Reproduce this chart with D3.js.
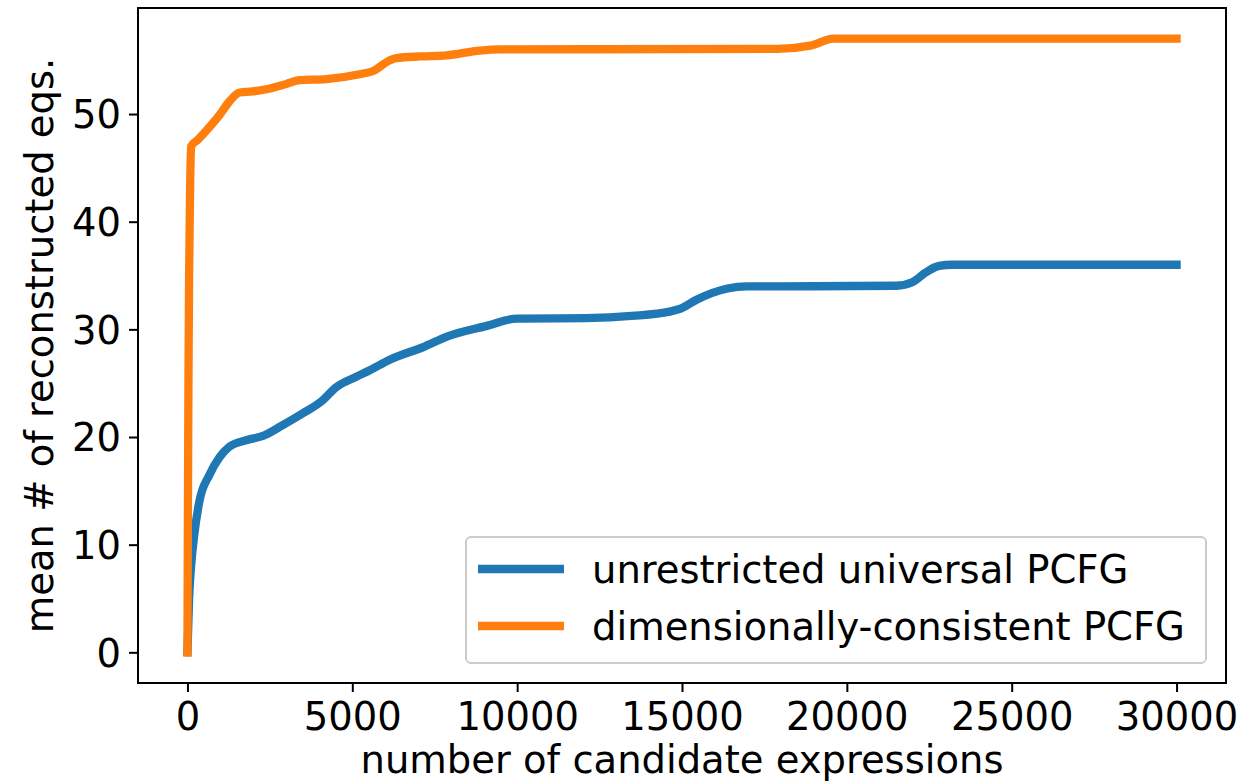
<!DOCTYPE html>
<html>
<head>
<meta charset="utf-8">
<script src="https://cdn.jsdelivr.net/npm/d3@7"></script>
<style>
  html, body { margin: 0; padding: 0; background: #ffffff; }
  svg { display: block; }
  text { font-family: "DejaVu Sans", sans-serif; fill: #000; }
</style>
</head>
<body>
<svg id="chart" width="1260" height="783"></svg>
<script>
// Cumulative mean number of reconstructed equations vs. candidates tried
const unrestrictedX = [0, 50, 110, 210, 360, 670, 970, 1270, 1780, 2290, 2890, 3500, 4100, 4500, 5120, 5530, 6150, 7190, 7890, 9050, 9990, 12080, 13470, 14630, 14980, 15440, 16380, 16960, 18000, 21500, 22000, 22400, 22800, 23200, 30000];
const unrestrictedY = [0, 5, 8, 11, 14, 16.5, 18.1, 19.1, 19.7, 20.1, 21.1, 22.2, 23.4, 24.6, 25.6, 26.2, 27.2, 28.4, 29.35, 30.3, 31.0, 31.05, 31.25, 31.65, 31.95, 32.75, 33.8, 34.0, 34.0, 34.05, 34.4, 35.3, 35.9, 36.0, 36.0];

const consistentX = [0, 10, 30, 50, 80, 110, 310, 670, 970, 1280, 1580, 1980, 2390, 3000, 3400, 4210, 5220, 5630, 6140, 6340, 7050, 7860, 8870, 9500, 17880, 18890, 19600, 20300, 30000];
const consistentY = [0, 10, 25, 35, 43, 47, 47.6, 48.8, 49.9, 51.2, 52.0, 52.1, 52.3, 52.8, 53.15, 53.25, 53.7, 54.0, 55.0, 55.2, 55.35, 55.45, 55.9, 56.0, 56.05, 56.35, 57.0, 57.0, 57.0];

const seriesNames = ["unrestricted universal PCFG", "dimensionally-consistent PCFG"];
const seriesColors = ["#1f77b4", "#ff7f0e"];
const xTicks = [0, 5000, 10000, 15000, 20000, 25000, 30000];
const yTicks = [0, 10, 20, 30, 40, 50];
const xLabel = "number of candidate expressions";
const yLabel = "mean # of reconstructed eqs.";

const svg = d3.select("#chart");
const plot = { left: 138, right: 1226, top: 8, bottom: 683 };
const fontSize = 38.5;

// data range padded by 5% on each side
const x = d3.scaleLinear().domain([-1500, 31500]).range([plot.left, plot.right]);
const y = d3.scaleLinear().domain([-2.85, 59.85]).range([plot.bottom, plot.top]);

const series = [
  unrestrictedX.map((v, i) => [v, unrestrictedY[i]]),
  consistentX.map((v, i) => [v, consistentY[i]])
];

const line = d3.line().x(d => x(d[0])).y(d => y(d[1])).curve(d3.curveMonotoneX);

const clipId = "plot-clip";
svg.append("clipPath").attr("id", clipId)
  .append("rect")
  .attr("x", plot.left).attr("y", plot.top)
  .attr("width", plot.right - plot.left).attr("height", plot.bottom - plot.top);

const lines = svg.append("g").attr("clip-path", `url(#${clipId})`);
series.forEach((pts, i) => {
  lines.append("path")
    .attr("d", line(pts))
    .attr("fill", "none")
    .attr("stroke", seriesColors[i])
    .attr("stroke-width", 8.3)
    .attr("stroke-linecap", "square")
    .attr("stroke-linejoin", "round");
});

// axes
const xAxis = d3.axisBottom(x).tickValues(xTicks).tickSize(9).tickPadding(8).tickFormat(d3.format("d"));
const yAxis = d3.axisLeft(y).tickValues(yTicks).tickSize(9).tickPadding(8).tickFormat(d3.format("d"));

const gx = svg.append("g").attr("transform", `translate(0,${plot.bottom})`).call(xAxis);
const gy = svg.append("g").attr("transform", `translate(${plot.left},0)`).call(yAxis);

[gx, gy].forEach(g => {
  g.select(".domain").remove();
  g.selectAll(".tick line").attr("stroke", "#000").attr("stroke-width", 2);
  g.selectAll(".tick text")
    .style("font-family", "DejaVu Sans, sans-serif")
    .style("font-size", fontSize + "px")
    .attr("fill", "#000");
});
gx.selectAll(".tick text").attr("dy", null).attr("y", null)
  .attr("transform", "translate(0,47)");
gy.selectAll(".tick text").attr("dy", "0.36em");

// frame
svg.append("rect")
  .attr("x", plot.left).attr("y", plot.top)
  .attr("width", plot.right - plot.left).attr("height", plot.bottom - plot.top)
  .attr("fill", "none").attr("stroke", "#000").attr("stroke-width", 2);

// axis titles
svg.append("text")
  .attr("x", (plot.left + plot.right) / 2).attr("y", 773)
  .attr("text-anchor", "middle")
  .style("font-size", fontSize + "px")
  .text(xLabel);

svg.append("text")
  .attr("transform", `translate(53,${(plot.top + plot.bottom) / 2}) rotate(-90)`)
  .attr("text-anchor", "middle")
  .style("font-size", fontSize + "px")
  .text(yLabel);

// legend
const legend = svg.append("g");
legend.append("rect")
  .attr("x", 466).attr("y", 537).attr("width", 740).attr("height", 126)
  .attr("rx", 5).attr("ry", 5)
  .attr("fill", "#fff").attr("fill-opacity", 0.8)
  .attr("stroke", "#cccccc").attr("stroke-width", 2);

const rowY = [569, 626];
seriesNames.forEach((name, i) => {
  legend.append("line")
    .attr("x1", 478).attr("x2", 564)
    .attr("y1", rowY[i]).attr("y2", rowY[i])
    .attr("stroke", seriesColors[i]).attr("stroke-width", 8.3);
  legend.append("text")
    .attr("x", 592).attr("y", rowY[i])
    .attr("dy", "0.36em")
    .style("font-size", fontSize + "px")
    .text(name);
});
</script>
</body>
</html>
